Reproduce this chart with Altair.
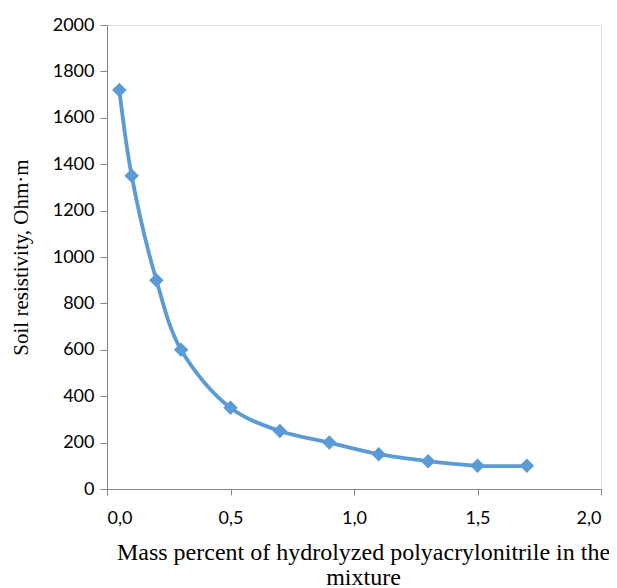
import altair as alt
import pandas as pd

mass_percent = [0.05, 0.1, 0.2, 0.3, 0.5, 0.7, 0.9, 1.1, 1.3, 1.5, 1.7]
resistivity = [1720, 1350, 900, 600, 350, 250, 200, 150, 120, 100, 100]

df = pd.DataFrame({"x": mass_percent, "y": resistivity})

color = "#5B9BD5"

x_enc = alt.X(
    "x:Q",
    scale=alt.Scale(domain=[0, 2], nice=False, zero=True),
    axis=alt.Axis(
        values=[0, 0.5, 1.0, 1.5, 2.0],
        labelExpr="replace(format(datum.value, '.1f'), '.', ',')",
        title=["Mass percent of hydrolyzed polyacrylonitrile in the", "mixture"],
        titleFont="Liberation Serif",
        titleFontSize=24,
        titleFontWeight="normal",
        titleColor="#000000",
        titleLineHeight=25,
        titlePadding=13,
        titleX=256,
        labelFont="Lato",
        labelFontSize=18,
        labelColor="#000000",
        labelPadding=14,
        tickSize=6,
        grid=False,
        domainColor="#868686",
        tickColor="#868686",
    ),
)
y_enc = alt.Y(
    "y:Q",
    scale=alt.Scale(domain=[0, 2000], nice=False),
    axis=alt.Axis(
        values=list(range(0, 2001, 200)),
        format="d",
        title="Soil resistivity, Ohm·m",
        titleFont="Liberation Serif",
        titleFontSize=21,
        titleFontWeight="normal",
        titleColor="#000000",
        titlePadding=21,
        labelFont="Lato",
        labelFontSize=18,
        labelColor="#000000",
        labelPadding=6,
        tickSize=7,
        grid=False,
        domainColor="#868686",
        tickColor="#868686",
    ),
)

line = alt.Chart(df).mark_line(
    color=color, strokeWidth=3.8, interpolate="catmull-rom"
).encode(x=x_enc, y=y_enc)

points = alt.Chart(df).mark_point(
    shape="diamond", filled=True, color=color, size=210, opacity=1
).encode(x="x:Q", y="y:Q")

chart = (
    alt.layer(line, points)
    .properties(
        width=494,
        height=464,
        autosize=alt.AutoSizeParams(type="none"),
        padding={"left": 99, "top": 17, "right": 8, "bottom": 99},
    )
    .configure_view(stroke=None)
    .configure(background="white")
)

chart.save("out.html", embed_options={"renderer": "svg", "actions": False})
